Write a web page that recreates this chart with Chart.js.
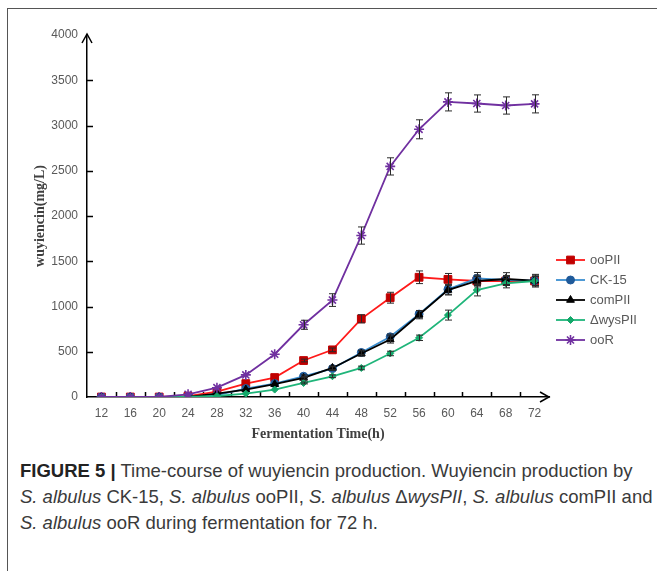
<!DOCTYPE html>
<html>
<head>
<meta charset="utf-8">
<script src="https://cdn.jsdelivr.net/npm/chart.js@4/dist/chart.umd.min.js"></script>
<style>
  body { margin: 0; background: #fff; }
  #wrap { position: relative; width: 657px; height: 571px; overflow: hidden; background: #fff; }
  #frame { position: absolute; left: 7px; top: 8px; width: 700px; height: 600px;
           border-left: 1px solid #555; border-top: 1px solid #555; }
  #chart { position: absolute; left: 0; top: 0; }
  #cap { position: absolute; left: 20px; top: 458px; font-family: "Liberation Sans", Arial, sans-serif;
         font-size: 18.5px; line-height: 26px; color: #3a3a3a; white-space: nowrap; }
  #cap b { color: #222; }
</style>
</head>
<body>
<div id="wrap">
  <div id="frame"></div>
  <canvas id="chart" width="657" height="450"></canvas>
  <div id="cap">
    <b>FIGURE 5 |</b> Time-course of wuyiencin production. Wuyiencin production by<br>
    <i>S. albulus</i> CK-15, <i>S. albulus</i> ooPII, <i>S. albulus</i> &Delta;<i>wysPII</i>, <i>S. albulus</i> comPII and<br>
    <i>S. albulus</i> ooR during fermentation for 72 h.
  </div>
</div>
<script>
// fermentation time (h)
const hours = ["12", "16", "20", "24", "28", "32", "36", "40", "44", "48", "52", "56", "60", "64", "68", "72"];
const yTicks = [0, 500, 1000, 1500, 2000, 2500, 3000, 3500, 4000];

// wuyiencin (mg/L) per strain
const ooPII   = [0, 0, 0, 10, 60, 148, 215, 403, 521, 864, 1097, 1323, 1300, 1282, 1282, 1282];
const ck15    = [0, 0, 0, 0, 20, 93, 148, 229, 314, 492, 665, 916, 1190, 1311, 1293, 1285];
const comPII  = [0, 0, 0, 0, 37, 82, 141, 211, 321, 481, 636, 909, 1182, 1282, 1304, 1285];
const wysPII  = [0, 0, 0, 0, 11, 37, 82, 155, 229, 321, 481, 654, 905, 1182, 1256, 1282];
const ooR     = [0, 0, 0, 30, 103, 244, 473, 798, 1071, 1784, 2548, 2958, 3261, 3243, 3221, 3239];

// error bars (+/-)
const ooPIIErr  = [0, 0, 0, 0, 0, 0, 0, 15, 20, 45, 60, 70, 65, 50, 50, 50];
const ck15Err   = [0, 0, 0, 0, 0, 0, 0, 15, 20, 25, 30, 40, 55, 65, 50, 70];
const comPIIErr = [0, 0, 0, 0, 0, 0, 0, 15, 20, 30, 40, 45, 55, 65, 70, 60];
const wysPIIErr = [0, 0, 0, 0, 0, 0, 0, 10, 15, 20, 25, 30, 55, 65, 50, 50];
const ooRErr    = [0, 0, 0, 0, 0, 0, 0, 50, 70, 95, 95, 105, 100, 95, 95, 100];

function series(label, data, errors, color, pointColor, style, radius, order) {
    return {
        label: label,
        data: data,
        errors: errors,
        borderColor: color,
        backgroundColor: pointColor,
        pointBackgroundColor: pointColor,
        pointBorderColor: style === "star" ? color : pointColor,
        pointStyle: style,
        pointRadius: radius,
        pointBorderWidth: style === "star" ? 1.6 : 1,
        borderWidth: 1.8,
        tension: 0,
        fill: false,
        order: order
    };
}

// inward ticks and arrow heads on the axes
const axisDeco = {
    id: "axisDeco",
    beforeDatasetsDraw(chart) {
        const ctx = chart.ctx, xs = chart.scales.x, ys = chart.scales.y, ca = chart.chartArea;
        ctx.save();
        ctx.strokeStyle = "#000";
        ctx.lineWidth = 1.5;
        ctx.beginPath();
        yTicks.forEach(v => {
            if (v === 0 || v === 4000) return;
            const y = Math.round(ys.getPixelForValue(v)) + 0.5;
            ctx.moveTo(ca.left, y);
            ctx.lineTo(ca.left + 6, y);
        });
        for (let i = 1; i < hours.length; i++) {
            const x = Math.round((xs.getPixelForValue(i - 1) + xs.getPixelForValue(i)) / 2) + 0.5;
            ctx.moveTo(x, ca.bottom);
            ctx.lineTo(x, ca.bottom - 5);
        }
        ctx.stroke();
        // arrows
        ctx.beginPath();
        ctx.moveTo(ca.left - 5, ca.top + 8);
        ctx.lineTo(ca.left, ca.top - 1);
        ctx.lineTo(ca.left + 5, ca.top + 8);
        ctx.moveTo(ca.right - 9, ca.bottom - 5);
        ctx.lineTo(ca.right, ca.bottom);
        ctx.lineTo(ca.right - 9, ca.bottom + 5);
        ctx.stroke();
        ctx.restore();
    }
};

const errorBars = {
    id: "errorBars",
    afterDatasetsDraw(chart) {
        const ctx = chart.ctx, xs = chart.scales.x, ys = chart.scales.y;
        ctx.save();
        ctx.strokeStyle = "#2a2a2a";
        ctx.lineWidth = 1;
        chart.data.datasets.forEach(ds => {
            ds.data.forEach((v, i) => {
                const e = ds.errors[i];
                if (!e) return;
                const x = Math.round(xs.getPixelForValue(i)) + 0.5;
                const y1 = ys.getPixelForValue(v + e), y2 = ys.getPixelForValue(v - e);
                ctx.beginPath();
                ctx.moveTo(x, y1); ctx.lineTo(x, y2);
                ctx.moveTo(x - 3.5, y1); ctx.lineTo(x + 3.5, y1);
                ctx.moveTo(x - 3.5, y2); ctx.lineTo(x + 3.5, y2);
                ctx.stroke();
            });
        });
        ctx.restore();
    }
};

const sideLegend = {
    id: "sideLegend",
    afterDraw(chart) {
        const ctx = chart.ctx;
        ctx.save();
        ctx.font = "13px 'Liberation Sans', Arial, sans-serif";
        ctx.textBaseline = "middle";
        chart.data.datasets.forEach((ds, i) => {
            const y = 260 + i * 20;
            ctx.strokeStyle = ds.borderColor;
            ctx.lineWidth = ds.borderWidth;
            ctx.beginPath();
            ctx.moveTo(556, y); ctx.lineTo(585, y);
            ctx.stroke();
            ctx.fillStyle = ds.pointBackgroundColor;
            ctx.strokeStyle = ds.pointBorderColor;
            ctx.lineWidth = ds.pointBorderWidth;
            Chart.helpers.drawPoint(ctx, {
                pointStyle: ds.pointStyle, radius: ds.pointRadius, rotation: 0, borderWidth: ds.pointBorderWidth
            }, 570.5, y);
            ctx.fillStyle = "#595959";
            ctx.fillText(ds.label, 590, y + 0.5);
        });
        ctx.restore();
    }
};

const ctx = document.getElementById("chart").getContext("2d");
const chart = new Chart(ctx, {
    type: "line",
    data: {
        labels: hours,
        datasets: [
            series("ooPII", ooPII, ooPIIErr, "#ff1a1a", "#c00000", "rect", 5.5, 5),
            series("CK-15", ck15, ck15Err, "#3a8ed0", "#1f5a9a", "circle", 4, 4),
            series("comPII", comPII, comPIIErr, "#000000", "#000000", "triangle", 4.5, 3),
            series("\u0394wysPII", wysPII, wysPIIErr, "#1fb57a", "#14a86a", "rectRot", 3.5, 2),
            series("ooR", ooR, ooRErr, "#7030a0", "#7030a0", "star", 5, 1)
        ]
    },
    options: {
        responsive: false,
        devicePixelRatio: 1,
        animation: false,
        layout: { padding: { top: 35, right: 108, left: 0, bottom: 0 } },
        plugins: { legend: { display: false }, tooltip: { enabled: false } },
        scales: {
            x: {
                type: "category",
                offset: true,
                grid: { display: false, drawTicks: false },
                border: { display: true, color: "#000", width: 1.5 },
                ticks: { color: "#595959", font: { size: 12, family: "'Liberation Sans', Arial, sans-serif" },
                         padding: 9, maxRotation: 0, autoSkip: false },
                title: { display: true, text: "Fermentation Time(h)", color: "#404040",
                         font: { size: 14, weight: "bold", family: "'Liberation Serif', 'Times New Roman', serif" },
                         padding: { top: 0, bottom: 7 } },
                afterFit: s => { s.height = 53; }
            },
            y: {
                min: 0,
                max: 4000,
                grid: { display: false, drawTicks: false },
                border: { display: true, color: "#000", width: 1.5 },
                afterBuildTicks: s => { s.ticks = yTicks.map(v => ({ value: v })); },
                ticks: { color: "#595959", font: { size: 12, family: "'Liberation Sans', Arial, sans-serif" },
                         padding: 9, callback: v => String(v) },
                title: { display: true, text: "wuyiencin(mg/L)", color: "#404040",
                         font: { size: 14, weight: "bold", family: "'Liberation Serif', 'Times New Roman', serif" },
                         padding: { top: 32, bottom: 0 } },
                afterFit: s => { s.width = 87; }
            }
        }
    },
    plugins: [axisDeco, errorBars, sideLegend]
});
</script>
</body>
</html>
